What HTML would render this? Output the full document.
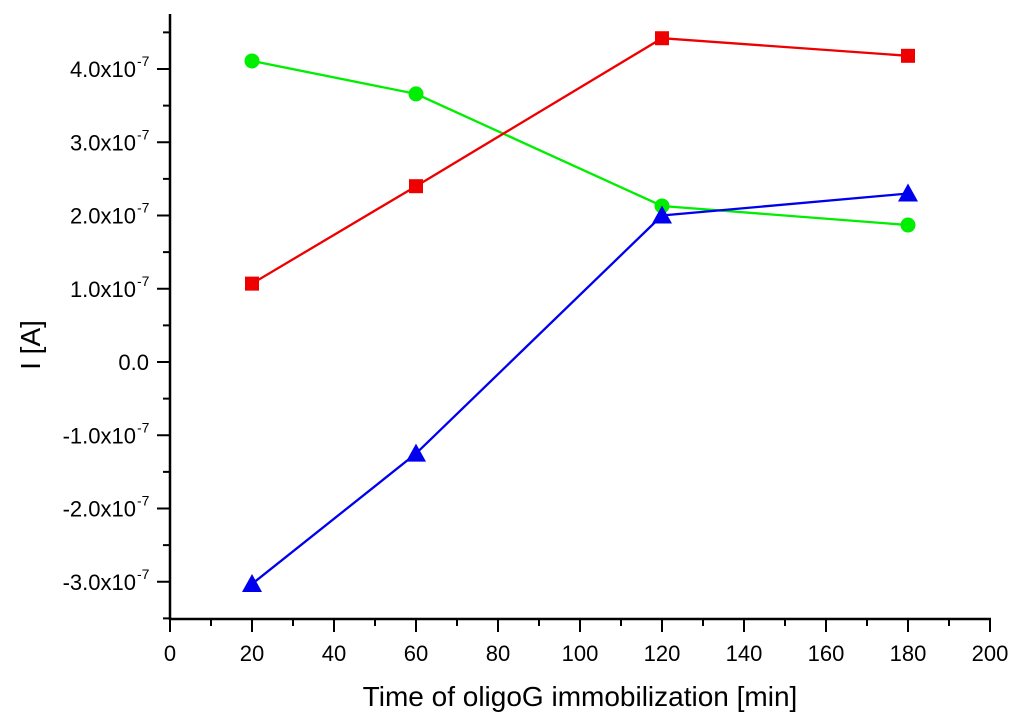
<!DOCTYPE html>
<html><head><meta charset="utf-8"><style>body{margin:0;background:#fff}svg{display:block}text{font-family:"Liberation Sans",Arial,sans-serif;fill:#000}</style></head>
<body>
<svg id="c" width="1024" height="727"></svg>
<script>
const xs = [20, 60, 120, 180];
const redVals = [1.07, 2.40, 4.42, 4.18];
const greenVals = [4.11, 3.66, 2.13, 1.87];
const blueVals = [-3.03, -1.25, 2.00, 2.30];
const xTicks = [0,20,40,60,80,100,120,140,160,180,200];
const yTicks = [-3,-2,-1,0,1,2,3,4];
const yLabels = ["-3.0x10","-2.0x10","-1.0x10","0.0","1.0x10","2.0x10","3.0x10","4.0x10"];
const svg = document.getElementById('c');
const NS = 'http://www.w3.org/2000/svg';
const X = v => 170 + v * 4.1;
const Y = v => 362 - v * 73.25;
function mk(t, a, p) { const e = document.createElementNS(NS, t); for (const k in a) e.setAttribute(k, a[k]); (p || svg).appendChild(e); return e; }
let e;
e = mk('line', {x1:170,y1:14,x2:170,y2:620,stroke:'#000','stroke-width':2.5});


e = mk('line', {x1:169,y1:619,x2:991,y2:619,stroke:'#000','stroke-width':2.5});


for (let v = 0; v <= 200; v += 10) {
  const maj = v % 20 === 0;
  e = mk('line', {x1:X(v),y1:619,x2:X(v),y2:maj?632:626,stroke:'#000','stroke-width':2});
  
  
}
xTicks.forEach(v => {
  e = mk('text', {x:X(v),y:661,'font-size':22,'text-anchor':'middle'});
  e.textContent = v;
  
  
});
for (let v = -3.5; v <= 4.75; v += 0.5) {
  const maj = Math.abs(v - Math.round(v)) < 1e-6;
  e = mk('line', {x1:maj?157:163,y1:Y(v),x2:170,y2:Y(v),stroke:'#000','stroke-width':2});
  
  
}
yTicks.forEach((v, i) => {
  e = mk('text', {x:v===0?149:136,y:Y(v)+8,'font-size':22,'text-anchor':'end'});
  e.textContent = yLabels[i];
  
  
  if (v !== 0) {
    const s = mk('text', {x:137,y:Y(v)-3,'font-size':14});
    s.textContent = '-7';
    
    
  }
});
e = mk('text', {x:580,y:706,'font-size':28,'text-anchor':'middle'});
e.textContent = 'Time of oligoG immobilization [min]';


e = mk('text', {x:0,y:0,'font-size':28,'text-anchor':'middle',transform:'translate(40,345) rotate(-90)'});
e.textContent = 'I [A]';


function series(vals, color, shape, name) {
  const g = mk('g', {});
  
  
  const pl = mk('polyline', {points:xs.map((x,i)=>X(x)+','+Y(vals[i])).join(' '),fill:'none',stroke:color,'stroke-width':2.3}, g);
  
  
  xs.forEach((x, i) => {
    const cx = X(x), cy = Y(vals[i]);
    let m;
    if (shape === 'sq') m = mk('rect', {x:cx-7,y:cy-7,width:14,height:14,fill:color}, g);
    else if (shape === 'ci') m = mk('circle', {cx:cx,cy:cy,r:7.5,fill:color}, g);
    else m = mk('polygon', {points:`${cx},${cy-10} ${cx-10},${cy+8} ${cx+10},${cy+8}`,fill:color}, g);
    
    
  });
}
series(greenVals, '#00ee00', 'ci', 'green-series');
series(redVals, '#ee0000', 'sq', 'red-series');
series(blueVals, '#0000ee', 'tri', 'blue-series');
</script>
</body></html>
